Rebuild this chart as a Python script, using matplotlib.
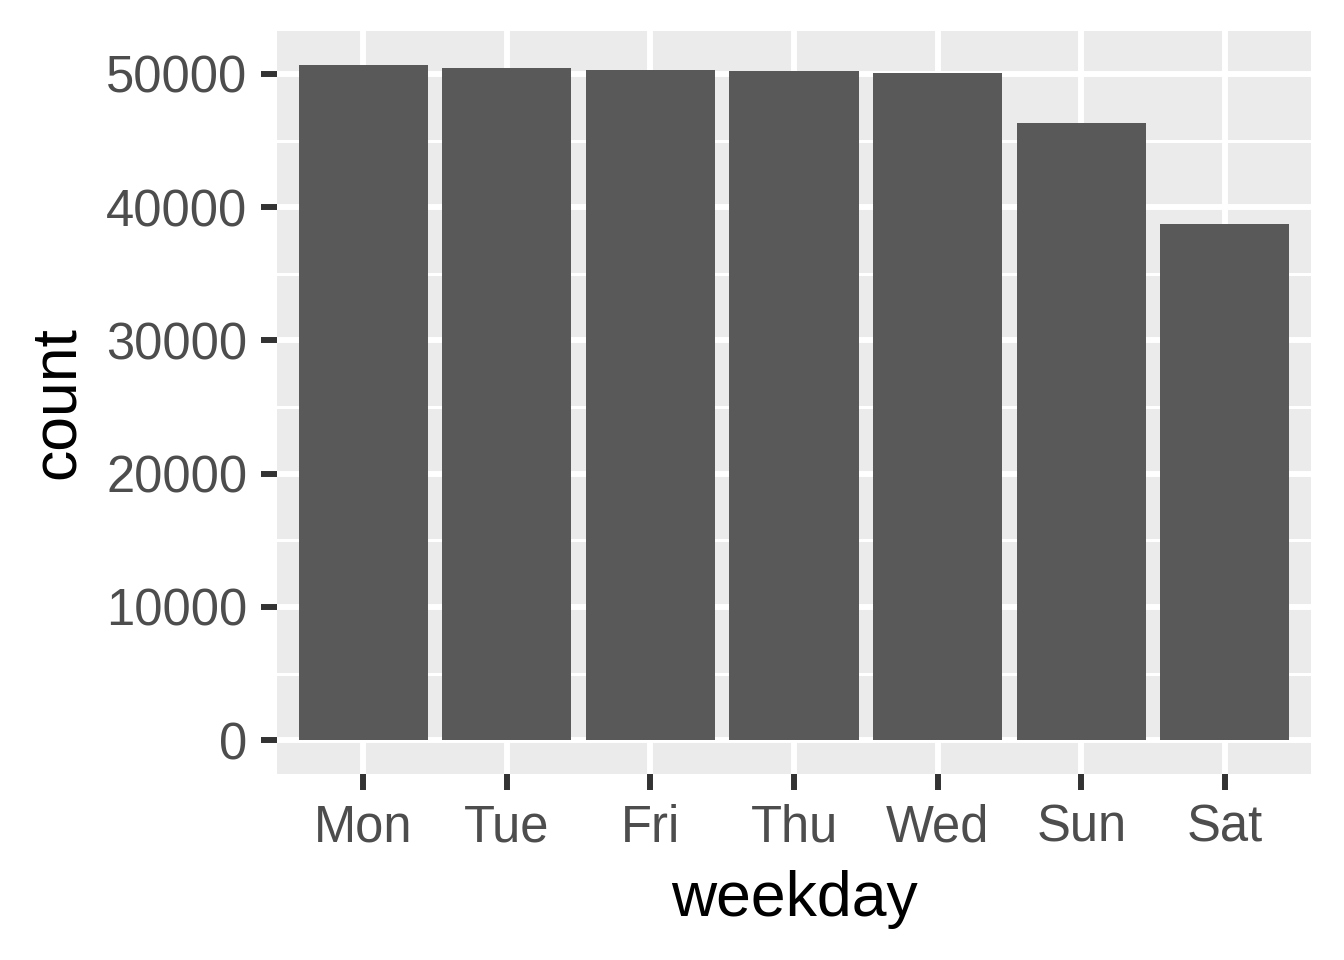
import matplotlib
matplotlib.use('Agg')
import matplotlib.pyplot as plt
import numpy as np

plt.rcParams['font.family'] = ['Liberation Sans', 'DejaVu Sans']

# flights per weekday
weekdays = ['Mon', 'Tue', 'Fri', 'Thu', 'Wed', 'Sun', 'Sat']
counts = [50690, 50422, 50308, 50219, 50060, 46357, 38720]

fig = plt.figure(figsize=(13.44, 9.6), dpi=100)
ax = fig.add_axes([277/1344, 1 - 774/960, (1311 - 277)/1344, (774 - 31)/960])
ax.set_facecolor('#EBEBEB')

x = np.arange(1, len(weekdays) + 1)
ax.bar(x, counts, width=0.9, color='#595959', zorder=3)

ymax = max(counts)
ax.set_ylim(-0.05 * ymax, 1.05 * ymax)
ax.set_xlim(0.4, len(weekdays) + 0.6)

ax.set_yticks(np.arange(0, 50001, 10000))
ax.set_yticks(np.arange(5000, 50000, 10000), minor=True)
ax.set_xticks(x)
ax.set_xticklabels(weekdays)

ax.grid(which='major', color='white', linewidth=4.3, zorder=1)
ax.grid(which='minor', axis='y', color='white', linewidth=2.2, zorder=1)
ax.set_axisbelow(True)

for s in ax.spines.values():
    s.set_visible(False)

ax.tick_params(which='major', length=11.5, width=4.3, color='#333333',
               labelsize=36.5, labelcolor='#4D4D4D', pad=10)
ax.tick_params(which='minor', length=0)

ax.set_xlabel('weekday', fontsize=45, color='black', labelpad=12)
ax.set_ylabel('count', fontsize=45, color='black', labelpad=14)

fig.savefig('out.png', dpi=100, facecolor='white')
